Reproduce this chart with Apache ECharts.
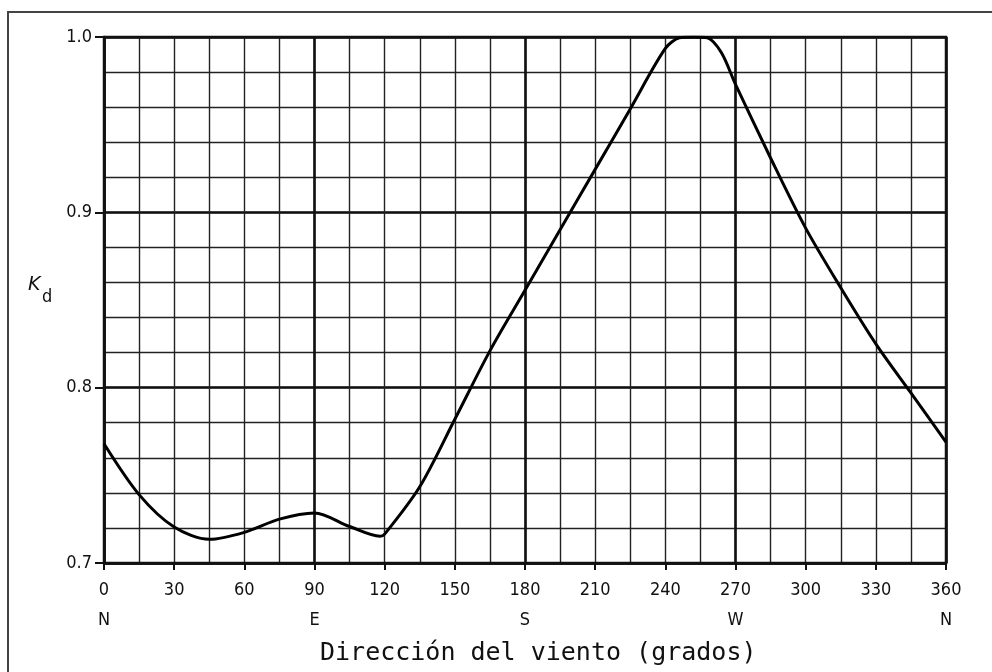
<!DOCTYPE html>
<html>
<head>
<meta charset="utf-8">
<script src="https://cdn.jsdelivr.net/npm/echarts@6/dist/echarts.min.js"></script>
<style>
  html, body { margin: 0; padding: 0; background: #fff; }
  #frame { position: absolute; left: 7px; top: 11px; right: 0; bottom: 0;
           border-left: 2px solid #444; border-top: 2px solid #444; }
  #chart { position: absolute; left: 0; top: 0; width: 992px; height: 672px; }
</style>
</head>
<body>
<div id="frame"></div>
<div id="chart"></div>
<script>
// direccion del viento (grados) y factor Kd
var direcciones = [0, 15, 30, 45, 60, 75, 90, 105, 118, 120, 135, 150, 165, 180, 195, 210, 225, 240, 246, 252, 258, 264, 270, 285, 300, 315, 330, 345, 360];
var kd = [0.768, 0.739, 0.7205, 0.7135, 0.7175, 0.725, 0.7285, 0.7208, 0.7153, 0.7165, 0.7435, 0.782, 0.821, 0.8555, 0.890, 0.9245, 0.959, 0.9935, 0.9995, 1.0, 0.9995, 0.991, 0.973, 0.931, 0.891, 0.857, 0.825, 0.797, 0.769];
// puntos cardinales bajo las marcas
var cardinales = { 0: 'N', 90: 'E', 180: 'S', 270: 'W', 360: 'N' };

var labelFont = '"DejaVu Sans Condensed", "DejaVu Sans", sans-serif';

var myChart = echarts.init(document.getElementById('chart'));
var option = {
  animation: false,
  grid: { left: 104, right: 46, top: 37, bottom: 109, containLabel: false },
  xAxis: [
    { // rejilla fina cada 15
      type: 'value', min: 0, max: 360, interval: 15,
      axisLine: { show: true, lineStyle: { color: '#111', width: 2.5 } },
      axisTick: { show: false }, axisLabel: { show: false },
      splitLine: { show: true, lineStyle: { color: '#222', width: 1.4 } }
    },
    { // rejilla gruesa cada 90
      type: 'value', min: 0, max: 360, interval: 90, position: 'bottom',
      axisLine: { show: false }, axisTick: { show: false }, axisLabel: { show: false },
      splitLine: { show: true, lineStyle: { color: '#111', width: 2.6 } }
    },
    { // etiquetas cada 30
      type: 'value', min: 0, max: 360, interval: 30, position: 'bottom',
      axisLine: { show: false },
      axisTick: { show: true, inside: false, length: 7, lineStyle: { color: '#111', width: 2 } },
      splitLine: { show: false },
      axisLabel: {
        margin: 12,
        formatter: function (v) { return '{n|' + v + '}\n{c|' + (cardinales[v] || ' ') + '}'; },
        rich: {
          n: { fontFamily: labelFont, fontSize: 18, color: '#111', lineHeight: 30 },
          c: { fontFamily: labelFont, fontSize: 18, color: '#111', lineHeight: 30 }
        }
      }
    }
  ],
  yAxis: [
    { // rejilla fina cada 0.02
      type: 'value', min: 0.7, max: 1.0, interval: 0.02,
      axisLine: { show: true, lineStyle: { color: '#111', width: 2.5 } },
      axisTick: { show: false }, axisLabel: { show: false },
      splitLine: { show: true, lineStyle: { color: '#222', width: 1.4 } }
    },
    { // lineas gruesas y etiquetas cada 0.1
      type: 'value', min: 0.7, max: 1.0, interval: 0.1, position: 'left',
      axisLine: { show: false },
      axisTick: { show: true, inside: false, length: 9, lineStyle: { color: '#111', width: 2 } },
      splitLine: { show: true, lineStyle: { color: '#111', width: 2.6 } },
      axisLabel: {
        margin: 12, fontFamily: labelFont, fontSize: 18, color: '#111',
        formatter: function (v) { return v.toFixed(1); }
      }
    }
  ],
  graphic: [
    { type: 'text', left: 28, top: 276, style: { text: 'K', font: 'italic 19px "DejaVu Sans", sans-serif', fill: '#111' } },
    { type: 'text', left: 42, top: 288, style: { text: 'd', font: '18px ' + labelFont, fill: '#111' } },
    { type: 'text', left: 320, top: 641,
      style: { text: 'Dirección del viento (grados)', font: '25px "DejaVu Sans Mono", monospace', fill: '#111' } },
    { // marco del gráfico
      type: 'rect', shape: { x: 104, y: 37, width: 842, height: 526 },
      style: { fill: 'none', stroke: '#111', lineWidth: 2.5 }, silent: true, z: 5
    }
  ],
  series: [{
    type: 'line',
    xAxisIndex: 2, yAxisIndex: 1,
    data: direcciones.map(function (d, i) { return [d, kd[i]]; }),
    smooth: 0.3,
    showSymbol: false,
    lineStyle: { color: '#000', width: 3 },
    z: 10
  }]
};
option && myChart.setOption(option);
</script>
</body>
</html>
